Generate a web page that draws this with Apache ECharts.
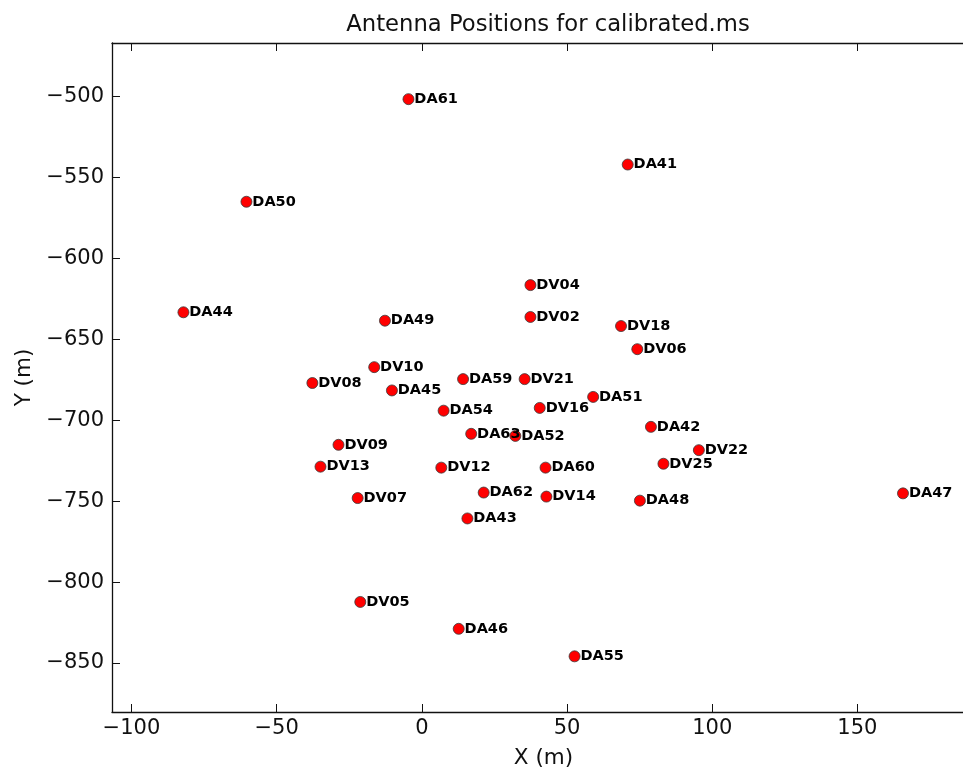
<!DOCTYPE html>
<html>
<head>
<meta charset="utf-8">
<script src="https://cdn.jsdelivr.net/npm/echarts@6/dist/echarts.min.js"></script>
<style>
  html, body { margin: 0; padding: 0; background: #fff; overflow: hidden; }
  /* plot area runs slightly past the right edge of the window */
  #chart { width: 975px; height: 774px; }
</style>
</head>
<body>
<div id="chart"></div>
<script>
// Antenna names and their local X/Y offsets in metres
const antennaNames = [
  'DA61', 'DA41', 'DA50', 'DV04', 'DA44', 'DV02', 'DA49', 'DV18', 'DV06',
  'DV10', 'DV08', 'DA59', 'DV21', 'DA45', 'DA51', 'DA54', 'DV16', 'DA42',
  'DA63', 'DA52', 'DV22', 'DV09', 'DV13', 'DV12', 'DA60', 'DV25', 'DA62',
  'DV14', 'DV07', 'DA48', 'DA47', 'DA43', 'DV05', 'DA46', 'DA55'
];
const antennaX = [
  -4.6, 70.9, -60.4, 37.4, -82.1, 37.4, -12.7, 68.6, 74.2,
  -16.4, -37.7, 14.2, 35.4, -10.3, 59.0, 7.5, 40.6, 78.9,
  17.0, 32.2, 95.4, -28.7, -34.9, 6.7, 42.6, 83.2, 21.3,
  42.9, -22.1, 75.1, 165.7, 15.7, -21.2, 12.7, 52.6
];
const antennaY = [
  -501.6, -542.0, -565.0, -616.5, -633.3, -636.2, -638.5, -641.8, -656.1,
  -667.2, -677.0, -674.6, -674.6, -681.6, -685.6, -694.1, -692.4, -704.1,
  -708.4, -709.7, -718.5, -715.2, -728.7, -729.3, -729.3, -726.9, -744.7,
  -747.2, -748.1, -749.7, -745.2, -760.7, -812.3, -828.9, -845.9
];

// Axis extents and tick positions
const xRange = [-106.7, 190.5];
const yRange = [-880.3, -466.9];
const xTicks = [-100, -50, 0, 50, 100, 150];
const yTicks = [-850, -800, -750, -700, -650, -600, -550, -500];

const FONT = 'DejaVu Sans';
const INK = '#111';

const points = antennaNames.map((n, i) => ({ name: n, value: [antennaX[i], antennaY[i]] }));

function tickLabel(v) {
  return String(Math.round(v)).replace('-', '\u2212');
}

function axisBase(ticks, extra) {
  return Object.assign({
    type: 'value',
    splitLine: { show: false },
    axisLine: { show: true, onZero: false, lineStyle: { color: INK, width: 1.3 } },
    axisTick: { show: true, inside: true, length: 8, customValues: ticks, lineStyle: { color: INK, width: 1 } },
    axisLabel: { show: false }
  }, extra);
}

function labelStyle(ticks, margin) {
  return {
    show: true,
    customValues: ticks,
    fontFamily: FONT,
    fontSize: 21,
    color: '#111',
    margin: margin,
    formatter: tickLabel
  };
}

const chart = echarts.init(document.getElementById('chart'), null, { renderer: 'canvas' });

chart.setOption({
  animation: false,
  backgroundColor: '#fff',
  title: {
    text: 'Antenna Positions for calibrated.ms',
    left: 543,
    textAlign: 'center',
    top: 9,
    textStyle: { fontFamily: FONT, fontSize: 22.7, fontWeight: 'normal', color: '#111' }
  },
  grid: { left: 112, right: 0, top: 43, bottom: 59.5, containLabel: false },
  xAxis: [
    axisBase(xTicks, {
      min: xRange[0], max: xRange[1], position: 'bottom',
      name: 'X (m)', nameLocation: 'middle', nameGap: 35,
      nameTextStyle: { fontFamily: FONT, fontSize: 21.5, color: '#111' },
      axisLabel: labelStyle(xTicks, 6)
    }),
    axisBase(xTicks, { min: xRange[0], max: xRange[1], position: 'top' })
  ],
  yAxis: [
    axisBase(yTicks, {
      min: yRange[0], max: yRange[1], position: 'left',
      name: 'Y (m)', nameLocation: 'middle', nameGap: 75, nameRotate: 90,
      nameTextStyle: { fontFamily: FONT, fontSize: 21.5, color: '#111' },
      axisLabel: labelStyle(yTicks, 8)
    }),
    axisBase(yTicks, { min: yRange[0], max: yRange[1], position: 'right' })
  ],
  series: [{
    type: 'scatter',
    xAxisIndex: 0,
    yAxisIndex: 0,
    data: points,
    symbol: 'circle',
    symbolSize: 11,
    itemStyle: { color: '#ff0000', borderColor: '#3a3a3a', borderWidth: 0.8, opacity: 1 },
    label: {
      show: true,
      position: 'right',
      distance: 0,
      formatter: '{b}',
      fontFamily: FONT,
      fontWeight: 'bold',
      fontSize: 14.5,
      color: '#000'
    },
    emphasis: { disabled: true }
  }]
});
</script>
</body>
</html>
